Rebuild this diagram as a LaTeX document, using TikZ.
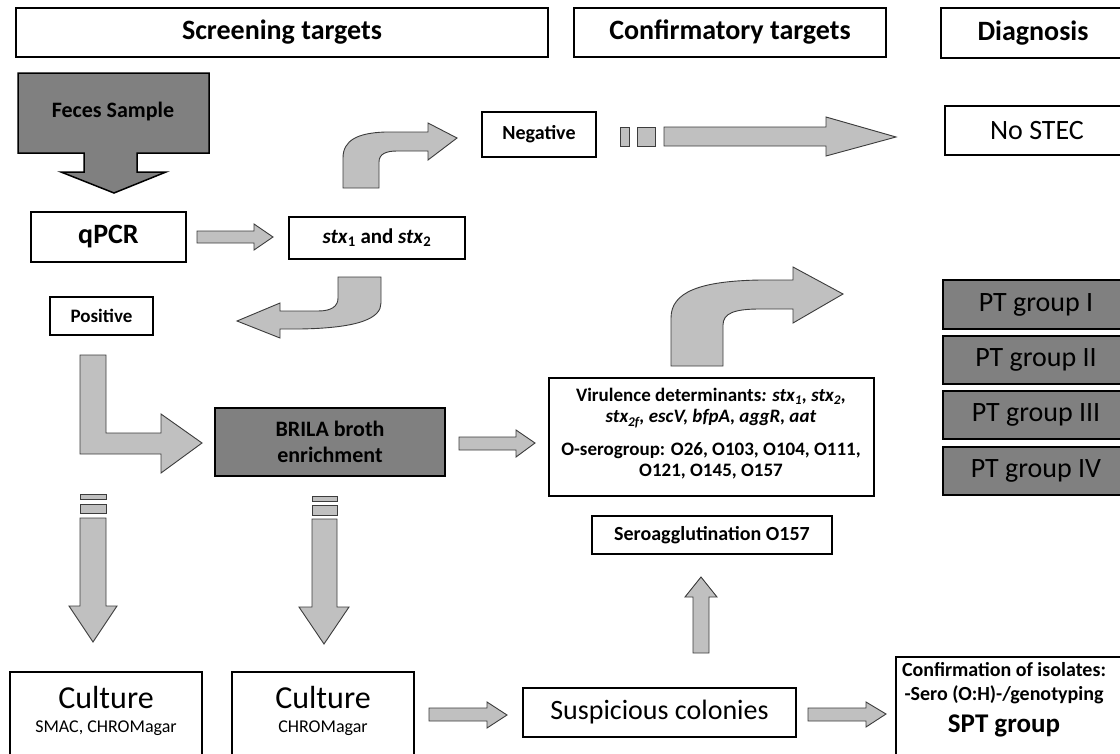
\documentclass[tikz,border=0pt]{standalone}
\usepackage{fontspec}
\setmainfont{Carlito}
\definecolor{agray}{HTML}{C0C0C0}
\definecolor{adark}{HTML}{3C3C3C}
\definecolor{dgray}{HTML}{808080}
\begin{document}
\begin{tikzpicture}[x=1pt,y=-1pt,
  bx/.style={draw=black, line width=1.8pt, fill=white, inner sep=0pt, outer sep=0pt, anchor=north west},
  dbx/.style={bx, fill=dgray},
  blk/.style={fill=agray, draw=adark, line width=0.9pt, line join=miter},
  hdr/.style={font=\fontsize{28}{32}\selectfont\bfseries},
  bigr/.style={font=\fontsize{28}{32}\selectfont},
  medb/.style={font=\fontsize{22}{26}\selectfont\bfseries, align=center},
  smb/.style={font=\fontsize{19}{21}\selectfont\bfseries, align=center},
  smr/.style={font=\fontsize{18}{21}\selectfont},
  txt/.style={inner sep=0pt}]
\fill[white] (0,0) rectangle (1120,753);
\useasboundingbox (0,0) rectangle (1120,753);
\clip (0,0) rectangle (1120,753);

% header boxes
\node[bx, minimum width=532, minimum height=49, hdr] (scr) at (16,8) {Screening targets};
\node[bx, minimum width=312, minimum height=49, hdr] (cnf) at (574,8) {Confirmatory targets};
\node[bx, minimum width=200, minimum height=50] (diag) at (941,8) {};
\node[txt, hdr] (diagt) at (1033,33) {Diagnosis};

% feces sample arrow
\draw[fill=dgray, draw=black, line width=1.5pt, line join=miter]
  (18,73) -- (209,73) -- (209,153) -- (137,153) -- (137,172) -- (166,172)
  -- (114,193) -- (61,172) -- (84,172) -- (84,153) -- (18,153) -- cycle;
\node[txt, medb] (fec) at (113,112) {Feces Sample};

% negative branch
\draw[blk] (343,188) -- (343,158) .. controls (343,140) and (358,133) .. (385,132)
  -- (428,132) -- (428,123) -- (457,138) -- (428,160) -- (428,151) -- (397,151)
  .. controls (386,151) and (379,154) .. (379,162) -- (379,188) -- cycle;
\node[bx, minimum width=114, minimum height=45, font=\fontsize{20}{23}\selectfont\bfseries] (neg) at (482,112) {Negative};
\draw[blk] (620,127) rectangle (629,146);
\draw[blk] (637,127) rectangle (655,146);
\draw[blk] (664,127) -- (826,127) -- (826,117) -- (896,137) -- (826,156) -- (826,146) -- (664,146) -- cycle;
\node[bx, minimum width=200, minimum height=49] (nostec) at (945,106) {};
\node[txt, bigr] (nostect) at (1037,131) {No STEC};

% qPCR row
\node[bx, minimum width=155, minimum height=50, hdr] (qpcr) at (31,212) {qPCR};
\draw[blk] (197,231) -- (254,231) -- (254,224) -- (273,237) -- (254,250) -- (254,243) -- (197,243) -- cycle;
\node[bx, minimum width=176, minimum height=42, font=\fontsize{21}{24}\selectfont\bfseries] (stx) at (289,217)
  {\textit{stx}\textsubscript{1} and \textit{stx}\textsubscript{2}};

% curved arrow to positive
\draw[blk] (338,277) -- (381,277) -- (381,303) .. controls (381,318) and (360,328) .. (300,329)
  -- (280,329) -- (280,338) -- (237,321) -- (280,303) -- (280,311) -- (318,311)
  .. controls (332,311) and (338,306) .. (338,298) -- cycle;
\node[bx, minimum width=103, minimum height=38, smb] (pos) at (50,297) {Positive};

% L arrow to BRILA
\draw[blk] (80,355) -- (106,355) -- (106,433) -- (161,433) -- (161,414) -- (202,443)
  -- (161,473) -- (161,454) -- (80,454) -- cycle;
\node[dbx, minimum width=230, minimum height=68, medb] (brila) at (215,408) {BRILA broth\\enrichment};
\draw[blk] (459,437) -- (516,437) -- (516,430) -- (535,443) -- (516,457) -- (516,450) -- (459,450) -- cycle;

% virulence box
\node[bx, minimum width=325, minimum height=118] (vir) at (549,378) {};
\node[txt, smb] (virt1) at (711,408) {Virulence determinants\textit{: stx\textsubscript{1}, stx\textsubscript{2},}\\
  \textit{stx\textsubscript{2f}, escV, bfpA, aggR, aat}};
\node[txt, smb] (virt2) at (711,461) {O-serogroup: O26, O103, O104, O111,\\O121, O145, O157};

% curved arrow to PT groups
\draw[blk] (671,366) -- (671,318) .. controls (671,292) and (700,281) .. (760,280)
  -- (793,280) -- (793,267) -- (843,294) -- (793,323) -- (793,309) -- (760,309)
  .. controls (735,309) and (723,313) .. (723,325) -- (723,366) -- cycle;

% PT groups
\node[dbx, minimum width=200, minimum height=49] (pt1) at (943,280) {};
\node[dbx, minimum width=200, minimum height=48] (pt2) at (943,336) {};
\node[dbx, minimum width=200, minimum height=48] (pt3) at (943,391) {};
\node[dbx, minimum width=200, minimum height=48] (pt4) at (943,447) {};
\node[txt, bigr] (pt1t) at (1036,305) {PT group I};
\node[txt, bigr] (pt2t) at (1036,360) {PT group II};
\node[txt, bigr] (pt3t) at (1036,415) {PT group III};
\node[txt, bigr] (pt4t) at (1036,471) {PT group IV};

% seroagglutination
\node[bx, minimum width=240, minimum height=38, font=\fontsize{20}{23}\selectfont\bfseries] (sero) at (592,516) {Seroagglutination O157};

% dashed down arrows
\draw[blk] (80,494) rectangle (106,499);
\draw[blk] (80,504) rectangle (106,513);
\draw[blk] (80,518) -- (106,518) -- (106,606) -- (117,606) -- (93,642) -- (69,606) -- (80,606) -- cycle;
\draw[blk] (312,496) rectangle (337,501);
\draw[blk] (312,505) rectangle (337,515);
\draw[blk] (312,519) -- (337,519) -- (337,607) -- (349,607) -- (324,644) -- (299,607) -- (312,607) -- cycle;

% culture boxes
\node[bx, minimum width=192, minimum height=100] (cul1) at (10,672) {};
\node[txt, font=\fontsize{32}{36}\selectfont] (cul1a) at (106,697) {Culture};
\node[txt, smr] (cul1b) at (106,728) {SMAC, CHROMagar};
\node[bx, minimum width=182, minimum height=100] (cul2) at (232,672) {};
\node[txt, font=\fontsize{32}{36}\selectfont] (cul2a) at (323,697) {Culture};
\node[txt, smr] (cul2b) at (323,728) {CHROMagar};

\draw[blk] (429,708) -- (487,708) -- (487,702) -- (507,715) -- (487,728) -- (487,721) -- (429,721) -- cycle;
\node[bx, minimum width=273, minimum height=49, bigr] (susp) at (523,688) {Suspicious colonies};

% up arrow
\draw[blk] (693,653) -- (693,597) -- (685,597) -- (701,577) -- (717,597) -- (709,597) -- (709,653) -- cycle;

% confirmation
\draw[blk] (808,708) -- (866,708) -- (866,702) -- (886,714) -- (866,727) -- (866,721) -- (808,721) -- cycle;
\node[bx, minimum width=250, minimum height=120] (conf) at (896,657) {};
\node[txt, font=\fontsize{20}{24}\selectfont\bfseries] (conft1) at (1004,670) {Confirmation of isolates:};
\node[txt, font=\fontsize{20}{24}\selectfont\bfseries] (conft2) at (1004,695) {-Sero (O:H)-/genotyping};
\node[txt, font=\fontsize{27}{31}\selectfont\bfseries] (conft3) at (1004,726) {SPT group};
\end{tikzpicture}
\end{document}
